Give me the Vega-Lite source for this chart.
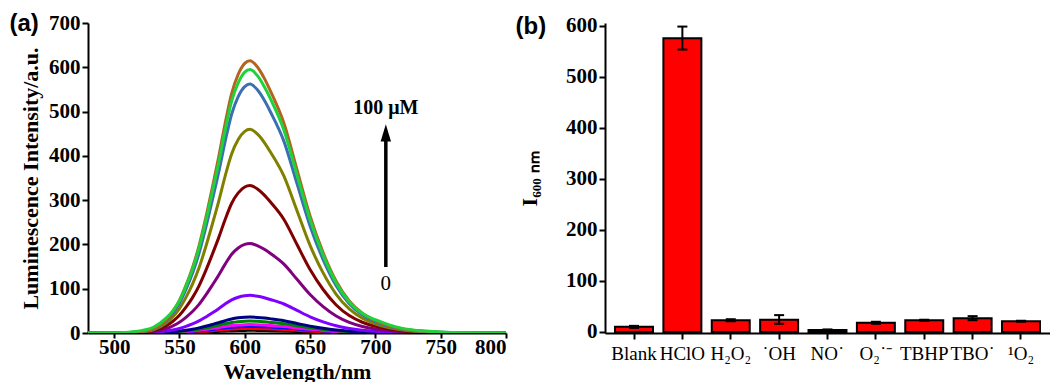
{
"$schema": "https://vega.github.io/schema/vega-lite/v6.json",
"padding": {"left": 9, "top": 12, "right": 0, "bottom": 0},
"spacing": 8,
"config": {
  "font": "Liberation Serif",
  "view": {"stroke": null},
  "axis": {"domainColor": "black", "domainWidth": 2, "tickColor": "black", "tickWidth": 2, "tickSize": 6, "labelColor": "black", "titleColor": "black", "grid": false, "labelFont": "Liberation Serif", "titleFont": "Liberation Serif", "labelFontSize": 21, "titleFontSize": 22, "labelFontWeight": "bold", "titleFontWeight": "bold", "labelPadding": 2},
  "title": {"font": "Liberation Sans", "fontSize": 24, "fontWeight": "bold", "color": "black"}
},
"datasets": {
"spectra": [
{"w":480,"s":0,"v":0},{"w":500,"s":0,"v":0},{"w":515,"s":0,"v":0},{"w":525,"s":0,"v":0.1},{"w":530,"s":0,"v":0.1},{"w":540,"s":0,"v":0.3},{"w":545,"s":0,"v":0.5},{"w":550,"s":0,"v":0.7},{"w":555,"s":0,"v":1.1},{"w":560,"s":0,"v":1.4},{"w":565,"s":0,"v":1.9},{"w":570,"s":0,"v":2.5},{"w":575,"s":0,"v":3.2},{"w":580,"s":0,"v":3.9},{"w":585,"s":0,"v":4.6},{"w":590,"s":0,"v":5.3},{"w":595,"s":0,"v":5.7},{"w":600,"s":0,"v":5.9},{"w":604,"s":0,"v":6},{"w":610,"s":0,"v":5.9},{"w":615,"s":0,"v":5.6},{"w":620,"s":0,"v":5.3},{"w":630,"s":0,"v":4.6},{"w":640,"s":0,"v":3.6},{"w":650,"s":0,"v":2.6},{"w":660,"s":0,"v":1.8},{"w":670,"s":0,"v":1.1},{"w":680,"s":0,"v":0.7},{"w":690,"s":0,"v":0.4},{"w":700,"s":0,"v":0.3},{"w":710,"s":0,"v":0.2},{"w":720,"s":0,"v":0.1},{"w":735,"s":0,"v":0},{"w":750,"s":0,"v":0},{"w":770,"s":0,"v":0},{"w":800,"s":0,"v":0},
{"w":480,"s":1,"v":0},{"w":500,"s":1,"v":0},{"w":515,"s":1,"v":0},{"w":525,"s":1,"v":0.1},{"w":530,"s":1,"v":0.2},{"w":540,"s":1,"v":0.5},{"w":545,"s":1,"v":0.8},{"w":550,"s":1,"v":1.2},{"w":555,"s":1,"v":1.8},{"w":560,"s":1,"v":2.4},{"w":565,"s":1,"v":3.2},{"w":570,"s":1,"v":4.2},{"w":575,"s":1,"v":5.3},{"w":580,"s":1,"v":6.5},{"w":585,"s":1,"v":7.7},{"w":590,"s":1,"v":8.8},{"w":595,"s":1,"v":9.5},{"w":600,"s":1,"v":9.9},{"w":604,"s":1,"v":10},{"w":610,"s":1,"v":9.8},{"w":615,"s":1,"v":9.4},{"w":620,"s":1,"v":8.9},{"w":630,"s":1,"v":7.7},{"w":640,"s":1,"v":6},{"w":650,"s":1,"v":4.3},{"w":660,"s":1,"v":3},{"w":670,"s":1,"v":1.9},{"w":680,"s":1,"v":1.2},{"w":690,"s":1,"v":0.7},{"w":700,"s":1,"v":0.5},{"w":710,"s":1,"v":0.3},{"w":720,"s":1,"v":0.2},{"w":735,"s":1,"v":0.1},{"w":750,"s":1,"v":0},{"w":770,"s":1,"v":0},{"w":800,"s":1,"v":0},
{"w":480,"s":2,"v":0},{"w":500,"s":2,"v":0},{"w":515,"s":2,"v":0},{"w":525,"s":2,"v":0.1},{"w":530,"s":2,"v":0.2},{"w":540,"s":2,"v":0.8},{"w":545,"s":2,"v":1.2},{"w":550,"s":2,"v":1.8},{"w":555,"s":2,"v":2.6},{"w":560,"s":2,"v":3.6},{"w":565,"s":2,"v":4.8},{"w":570,"s":2,"v":6.3},{"w":575,"s":2,"v":8},{"w":580,"s":2,"v":9.7},{"w":585,"s":2,"v":11.6},{"w":590,"s":2,"v":13.2},{"w":595,"s":2,"v":14.3},{"w":600,"s":2,"v":14.9},{"w":604,"s":2,"v":15},{"w":610,"s":2,"v":14.6},{"w":615,"s":2,"v":14},{"w":620,"s":2,"v":13.3},{"w":630,"s":2,"v":11.6},{"w":640,"s":2,"v":9},{"w":650,"s":2,"v":6.5},{"w":660,"s":2,"v":4.4},{"w":670,"s":2,"v":2.9},{"w":680,"s":2,"v":1.8},{"w":690,"s":2,"v":1.1},{"w":700,"s":2,"v":0.7},{"w":710,"s":2,"v":0.4},{"w":720,"s":2,"v":0.2},{"w":735,"s":2,"v":0.1},{"w":750,"s":2,"v":0},{"w":770,"s":2,"v":0},{"w":800,"s":2,"v":0},
{"w":480,"s":3,"v":0},{"w":500,"s":3,"v":0},{"w":515,"s":3,"v":0.1},{"w":525,"s":3,"v":0.2},{"w":530,"s":3,"v":0.3},{"w":540,"s":3,"v":1},{"w":545,"s":3,"v":1.5},{"w":550,"s":3,"v":2.3},{"w":555,"s":3,"v":3.3},{"w":560,"s":3,"v":4.6},{"w":565,"s":3,"v":6.1},{"w":570,"s":3,"v":8},{"w":575,"s":3,"v":10.1},{"w":580,"s":3,"v":12.3},{"w":585,"s":3,"v":14.6},{"w":590,"s":3,"v":16.7},{"w":595,"s":3,"v":18.1},{"w":600,"s":3,"v":18.8},{"w":604,"s":3,"v":19},{"w":610,"s":3,"v":18.5},{"w":615,"s":3,"v":17.8},{"w":620,"s":3,"v":16.8},{"w":630,"s":3,"v":14.6},{"w":640,"s":3,"v":11.4},{"w":650,"s":3,"v":8.2},{"w":660,"s":3,"v":5.6},{"w":670,"s":3,"v":3.6},{"w":680,"s":3,"v":2.2},{"w":690,"s":3,"v":1.4},{"w":700,"s":3,"v":0.9},{"w":710,"s":3,"v":0.5},{"w":720,"s":3,"v":0.3},{"w":735,"s":3,"v":0.1},{"w":750,"s":3,"v":0.1},{"w":770,"s":3,"v":0},{"w":800,"s":3,"v":0},
{"w":480,"s":4,"v":0},{"w":500,"s":4,"v":0},{"w":515,"s":4,"v":0.1},{"w":525,"s":4,"v":0.2},{"w":530,"s":4,"v":0.4},{"w":540,"s":4,"v":1.4},{"w":545,"s":4,"v":2.2},{"w":550,"s":4,"v":3.2},{"w":555,"s":4,"v":4.7},{"w":560,"s":4,"v":6.5},{"w":565,"s":4,"v":8.6},{"w":570,"s":4,"v":11.3},{"w":575,"s":4,"v":14.3},{"w":580,"s":4,"v":17.4},{"w":585,"s":4,"v":20.8},{"w":590,"s":4,"v":23.8},{"w":595,"s":4,"v":25.7},{"w":600,"s":4,"v":26.7},{"w":604,"s":4,"v":27},{"w":610,"s":4,"v":26.3},{"w":615,"s":4,"v":25.2},{"w":620,"s":4,"v":23.9},{"w":630,"s":4,"v":20.8},{"w":640,"s":4,"v":16.2},{"w":650,"s":4,"v":11.6},{"w":660,"s":4,"v":8},{"w":670,"s":4,"v":5.1},{"w":680,"s":4,"v":3.2},{"w":690,"s":4,"v":2},{"w":700,"s":4,"v":1.2},{"w":710,"s":4,"v":0.7},{"w":720,"s":4,"v":0.4},{"w":735,"s":4,"v":0.2},{"w":750,"s":4,"v":0.1},{"w":770,"s":4,"v":0},{"w":800,"s":4,"v":0},
{"w":480,"s":5,"v":0},{"w":500,"s":5,"v":0},{"w":515,"s":5,"v":0.1},{"w":525,"s":5,"v":0.3},{"w":530,"s":5,"v":0.6},{"w":540,"s":5,"v":1.8},{"w":545,"s":5,"v":2.9},{"w":550,"s":5,"v":4.3},{"w":555,"s":5,"v":6.3},{"w":560,"s":5,"v":8.6},{"w":565,"s":5,"v":11.5},{"w":570,"s":5,"v":15.1},{"w":575,"s":5,"v":19.1},{"w":580,"s":5,"v":23.2},{"w":585,"s":5,"v":27.7},{"w":590,"s":5,"v":31.7},{"w":595,"s":5,"v":34.2},{"w":600,"s":5,"v":35.6},{"w":604,"s":5,"v":36},{"w":610,"s":5,"v":35.1},{"w":615,"s":5,"v":33.7},{"w":620,"s":5,"v":31.9},{"w":630,"s":5,"v":27.7},{"w":640,"s":5,"v":21.6},{"w":650,"s":5,"v":15.5},{"w":660,"s":5,"v":10.6},{"w":670,"s":5,"v":6.8},{"w":680,"s":5,"v":4.2},{"w":690,"s":5,"v":2.6},{"w":700,"s":5,"v":1.6},{"w":710,"s":5,"v":1},{"w":720,"s":5,"v":0.6},{"w":735,"s":5,"v":0.3},{"w":750,"s":5,"v":0.1},{"w":770,"s":5,"v":0},{"w":800,"s":5,"v":0},
{"w":480,"s":6,"v":0},{"w":500,"s":6,"v":0},{"w":515,"s":6,"v":0.3},{"w":525,"s":6,"v":0.8},{"w":530,"s":6,"v":1.4},{"w":540,"s":6,"v":4.3},{"w":545,"s":6,"v":6.8},{"w":550,"s":6,"v":10.2},{"w":555,"s":6,"v":14.9},{"w":560,"s":6,"v":20.4},{"w":565,"s":6,"v":27.2},{"w":570,"s":6,"v":35.7},{"w":575,"s":6,"v":45},{"w":580,"s":6,"v":54.8},{"w":585,"s":6,"v":65.5},{"w":590,"s":6,"v":74.8},{"w":595,"s":6,"v":80.8},{"w":600,"s":6,"v":84.2},{"w":604,"s":6,"v":85},{"w":610,"s":6,"v":82.9},{"w":615,"s":6,"v":79.5},{"w":620,"s":6,"v":75.2},{"w":630,"s":6,"v":65.5},{"w":640,"s":6,"v":51},{"w":650,"s":6,"v":36.6},{"w":660,"s":6,"v":25.1},{"w":670,"s":6,"v":16.2},{"w":680,"s":6,"v":10},{"w":690,"s":6,"v":6.2},{"w":700,"s":6,"v":3.8},{"w":710,"s":6,"v":2.3},{"w":720,"s":6,"v":1.4},{"w":735,"s":6,"v":0.6},{"w":750,"s":6,"v":0.3},{"w":770,"s":6,"v":0.1},{"w":800,"s":6,"v":0},
{"w":480,"s":7,"v":0},{"w":500,"s":7,"v":0},{"w":515,"s":7,"v":0.6},{"w":525,"s":7,"v":1.8},{"w":530,"s":7,"v":3.2},{"w":540,"s":7,"v":10.1},{"w":545,"s":7,"v":16.2},{"w":550,"s":7,"v":24.2},{"w":555,"s":7,"v":35.4},{"w":560,"s":7,"v":48.5},{"w":565,"s":7,"v":64.6},{"w":570,"s":7,"v":84.8},{"w":575,"s":7,"v":107.1},{"w":580,"s":7,"v":130.3},{"w":585,"s":7,"v":155.5},{"w":590,"s":7,"v":177.8},{"w":595,"s":7,"v":191.9},{"w":600,"s":7,"v":200},{"w":604,"s":7,"v":202},{"w":610,"s":7,"v":197},{"w":615,"s":7,"v":188.9},{"w":620,"s":7,"v":178.8},{"w":630,"s":7,"v":155.5},{"w":640,"s":7,"v":121.2},{"w":650,"s":7,"v":86.9},{"w":660,"s":7,"v":59.6},{"w":670,"s":7,"v":38.4},{"w":680,"s":7,"v":23.8},{"w":690,"s":7,"v":14.7},{"w":700,"s":7,"v":9.1},{"w":710,"s":7,"v":5.5},{"w":720,"s":7,"v":3.2},{"w":735,"s":7,"v":1.4},{"w":750,"s":7,"v":0.6},{"w":770,"s":7,"v":0.2},{"w":800,"s":7,"v":0},
{"w":480,"s":8,"v":0},{"w":500,"s":8,"v":0},{"w":515,"s":8,"v":1},{"w":525,"s":8,"v":3},{"w":530,"s":8,"v":5.3},{"w":540,"s":8,"v":16.7},{"w":545,"s":8,"v":26.6},{"w":550,"s":8,"v":40},{"w":555,"s":8,"v":58.3},{"w":560,"s":8,"v":79.9},{"w":565,"s":8,"v":106.6},{"w":570,"s":8,"v":139.9},{"w":575,"s":8,"v":176.5},{"w":580,"s":8,"v":214.8},{"w":585,"s":8,"v":256.4},{"w":590,"s":8,"v":293},{"w":595,"s":8,"v":316.4},{"w":600,"s":8,"v":329.7},{"w":604,"s":8,"v":333},{"w":610,"s":8,"v":324.7},{"w":615,"s":8,"v":311.4},{"w":620,"s":8,"v":294.7},{"w":630,"s":8,"v":256.4},{"w":640,"s":8,"v":199.8},{"w":650,"s":8,"v":143.2},{"w":660,"s":8,"v":98.2},{"w":670,"s":8,"v":63.3},{"w":680,"s":8,"v":39.3},{"w":690,"s":8,"v":24.3},{"w":700,"s":8,"v":15},{"w":710,"s":8,"v":9},{"w":720,"s":8,"v":5.3},{"w":735,"s":8,"v":2.3},{"w":750,"s":8,"v":1},{"w":770,"s":8,"v":0.3},{"w":800,"s":8,"v":0},
{"w":480,"s":9,"v":0},{"w":500,"s":9,"v":0},{"w":515,"s":9,"v":1.4},{"w":525,"s":9,"v":4.1},{"w":530,"s":9,"v":7.4},{"w":540,"s":9,"v":23},{"w":545,"s":9,"v":36.8},{"w":550,"s":9,"v":55.2},{"w":555,"s":9,"v":80.5},{"w":560,"s":9,"v":110.4},{"w":565,"s":9,"v":147.2},{"w":570,"s":9,"v":193.2},{"w":575,"s":9,"v":243.8},{"w":580,"s":9,"v":296.7},{"w":585,"s":9,"v":354.2},{"w":590,"s":9,"v":404.8},{"w":595,"s":9,"v":437},{"w":600,"s":9,"v":455.4},{"w":604,"s":9,"v":460},{"w":610,"s":9,"v":448.5},{"w":615,"s":9,"v":430.1},{"w":620,"s":9,"v":407.1},{"w":630,"s":9,"v":354.2},{"w":640,"s":9,"v":276},{"w":650,"s":9,"v":197.8},{"w":660,"s":9,"v":135.7},{"w":670,"s":9,"v":87.4},{"w":680,"s":9,"v":54.3},{"w":690,"s":9,"v":33.6},{"w":700,"s":9,"v":20.7},{"w":710,"s":9,"v":12.4},{"w":720,"s":9,"v":7.4},{"w":735,"s":9,"v":3.2},{"w":750,"s":9,"v":1.4},{"w":770,"s":9,"v":0.5},{"w":800,"s":9,"v":0},
{"w":480,"s":10,"v":0},{"w":500,"s":10,"v":0},{"w":515,"s":10,"v":1.7},{"w":525,"s":10,"v":5.1},{"w":530,"s":10,"v":9},{"w":540,"s":10,"v":28.1},{"w":545,"s":10,"v":45},{"w":550,"s":10,"v":67.4},{"w":555,"s":10,"v":98.4},{"w":560,"s":10,"v":134.9},{"w":565,"s":10,"v":179.8},{"w":570,"s":10,"v":236},{"w":575,"s":10,"v":297.9},{"w":580,"s":10,"v":362.5},{"w":585,"s":10,"v":432.7},{"w":590,"s":10,"v":494.6},{"w":595,"s":10,"v":533.9},{"w":600,"s":10,"v":556.4},{"w":604,"s":10,"v":562},{"w":610,"s":10,"v":548},{"w":615,"s":10,"v":525.5},{"w":620,"s":10,"v":497.4},{"w":630,"s":10,"v":432.7},{"w":640,"s":10,"v":337.2},{"w":650,"s":10,"v":241.7},{"w":660,"s":10,"v":165.8},{"w":670,"s":10,"v":106.8},{"w":680,"s":10,"v":66.3},{"w":690,"s":10,"v":41},{"w":700,"s":10,"v":25.3},{"w":710,"s":10,"v":15.2},{"w":720,"s":10,"v":9},{"w":735,"s":10,"v":3.9},{"w":750,"s":10,"v":1.7},{"w":770,"s":10,"v":0.6},{"w":800,"s":10,"v":0},
{"w":480,"s":12,"v":0},{"w":500,"s":12,"v":0},{"w":515,"s":12,"v":1.8},{"w":525,"s":12,"v":5.5},{"w":530,"s":12,"v":9.8},{"w":540,"s":12,"v":30.8},{"w":545,"s":12,"v":49.2},{"w":550,"s":12,"v":73.8},{"w":555,"s":12,"v":107.6},{"w":560,"s":12,"v":147.6},{"w":565,"s":12,"v":196.8},{"w":570,"s":12,"v":258.3},{"w":575,"s":12,"v":326},{"w":580,"s":12,"v":396.7},{"w":585,"s":12,"v":473.6},{"w":590,"s":12,"v":541.2},{"w":595,"s":12,"v":584.3},{"w":600,"s":12,"v":608.9},{"w":604,"s":12,"v":615},{"w":610,"s":12,"v":599.6},{"w":615,"s":12,"v":575},{"w":620,"s":12,"v":544.3},{"w":630,"s":12,"v":473.6},{"w":640,"s":12,"v":369},{"w":650,"s":12,"v":264.5},{"w":660,"s":12,"v":181.4},{"w":670,"s":12,"v":116.9},{"w":680,"s":12,"v":72.6},{"w":690,"s":12,"v":44.9},{"w":700,"s":12,"v":27.7},{"w":710,"s":12,"v":16.6},{"w":720,"s":12,"v":9.8},{"w":735,"s":12,"v":4.3},{"w":750,"s":12,"v":1.8},{"w":770,"s":12,"v":0.6},{"w":800,"s":12,"v":0},
{"w":480,"s":11,"v":0},{"w":500,"s":11,"v":0.5},{"w":515,"s":11,"v":3},{"w":525,"s":11,"v":8},{"w":530,"s":11,"v":13},{"w":540,"s":11,"v":34},{"w":545,"s":11,"v":50},{"w":550,"s":11,"v":73},{"w":555,"s":11,"v":106},{"w":560,"s":11,"v":144},{"w":565,"s":11,"v":192},{"w":570,"s":11,"v":251},{"w":575,"s":11,"v":316},{"w":580,"s":11,"v":384},{"w":585,"s":11,"v":458},{"w":590,"s":11,"v":524},{"w":595,"s":11,"v":565},{"w":600,"s":11,"v":589},{"w":604,"s":11,"v":595},{"w":610,"s":11,"v":580},{"w":615,"s":11,"v":556},{"w":620,"s":11,"v":527},{"w":630,"s":11,"v":458},{"w":640,"s":11,"v":357},{"w":650,"s":11,"v":256},{"w":660,"s":11,"v":176},{"w":670,"s":11,"v":113},{"w":680,"s":11,"v":70},{"w":690,"s":11,"v":44},{"w":700,"s":11,"v":30},{"w":710,"s":11,"v":19},{"w":720,"s":11,"v":11},{"w":735,"s":11,"v":5},{"w":750,"s":11,"v":2.2},{"w":770,"s":11,"v":0.6},{"w":800,"s":11,"v":0}
],
"arrow": [{"x": 708, "y1": 149, "y2": 445, "tip": 452, "label": "100 μM", "ly": 508, "zero": "0", "zy": 111}],
"bars": [
{"cat": "Blank", "v": 10, "lo": 8, "hi": 12},
{"cat": "HClO", "v": 575, "lo": 553, "hi": 598},
{"cat": "H₂O₂", "v": 23, "lo": 21, "hi": 25},
{"cat": "˙OH", "v": 24, "lo": 16, "hi": 33},
{"cat": "NO˙", "v": 4, "lo": 3, "hi": 5},
{"cat": "O₂˙⁻", "v": 18, "lo": 16, "hi": 20},
{"cat": "TBHP", "v": 23, "lo": 22, "hi": 24},
{"cat": "TBO˙", "v": 27, "lo": 23, "hi": 31},
{"cat": "¹O₂", "v": 21, "lo": 20, "hi": 22}
]
},
"hconcat": [
{
  "width": 418, "height": 310,
  "title": {"text": "(a)", "anchor": "start", "frame": "bounds", "offset": -24, "dx": -10},
  "layer": [
    {"data": {"name": "spectra"},
     "mark": {"type": "line", "strokeWidth": 3, "interpolate": "monotone", "clip": true},
     "encoding": {
       "x": {"field": "w", "type": "quantitative", "scale": {"domain": [480, 800], "nice": false},
             "axis": {"title": "Wavelength/nm", "values": [500,525,550,575,600,625,650,675,700,725,750,775,800], "labelExpr": "datum.value % 50 === 0 ? datum.label : ''", "tickSize": {"condition": {"test": "datum.value % 50 === 0", "value": 5}, "value": 4}, "labelPadding": -2, "titlePadding": 4}},
       "y": {"field": "v", "type": "quantitative", "scale": {"domain": [0, 700], "nice": false},
             "axis": {"title": "Luminescence Intensity/a.u.", "values": [0,50,100,150,200,250,300,350,400,450,500,550,600,650,700], "labelExpr": "datum.value % 100 === 0 ? datum.label : ''", "tickSize": {"condition": {"test": "datum.value % 100 === 0", "value": 6}, "value": 4}, "titlePadding": 6}},
       "color": {"field": "s", "type": "nominal", "legend": null,
                 "scale": {"domain": [0,1,2,3,4,5,6,7,8,9,10,11,12], "range": ["#000000","#FF0000","#0000FF","#FF00FF","#008000","#000080","#8000FF","#800080","#800000","#808000","#3C6EB4","#1ED23C","#B4641E"]}}
     }},
    {"data": {"name": "arrow"}, "mark": {"type": "rule", "strokeWidth": 3.5, "color": "black"},
     "encoding": {"x": {"field": "x", "type": "quantitative"}, "y": {"field": "y1", "type": "quantitative"}, "y2": {"field": "y2"}}},
    {"data": {"name": "arrow"}, "mark": {"type": "point", "shape": "M0,-1L0.6,1L-0.6,1Z", "size": 300, "filled": true, "color": "black", "opacity": 1},
     "encoding": {"x": {"field": "x", "type": "quantitative"}, "y": {"field": "tip", "type": "quantitative"}}},
    {"data": {"name": "arrow"}, "mark": {"type": "text", "fontSize": 20, "fontWeight": "bold", "font": "Liberation Serif", "color": "black"},
     "encoding": {"x": {"field": "x", "type": "quantitative"}, "y": {"field": "ly", "type": "quantitative"}, "text": {"field": "label"}}},
    {"data": {"name": "arrow"}, "mark": {"type": "text", "fontSize": 21, "font": "Liberation Serif", "color": "black"},
     "encoding": {"x": {"field": "x", "type": "quantitative"}, "y": {"field": "zy", "type": "quantitative"}, "text": {"field": "zero"}}}
  ]
},
{
  "width": 445, "height": 310,
  "title": {"text": "(b)", "anchor": "start", "frame": "bounds", "offset": -24, "dx": -3},
  "data": {"name": "bars"},
  "encoding": {
    "x": {"field": "cat", "type": "nominal", "sort": null, "scale": {"paddingInner": 0.215, "paddingOuter": 0.207},
          "axis": {"title": null, "labelAngle": 0, "labelFontWeight": "normal", "labelFontSize": 19, "labelPadding": 5}}
  },
  "layer": [
    {"mark": {"type": "bar", "fill": "#FF0000", "stroke": "black", "strokeWidth": 2},
     "encoding": {"y": {"field": "v", "type": "quantitative", "scale": {"domain": [-2, 605], "nice": false},
        "axis": {"title": "I₆₀₀ ₙₘ", "values": [0,50,100,150,200,250,300,350,400,450,500,550,600], "labelExpr": "datum.value % 100 === 0 ? datum.label : ''", "tickSize": {"condition": {"test": "datum.value % 100 === 0", "value": 6}, "value": 4}, "titlePadding": 24}}}},
    {"mark": {"type": "rule", "strokeWidth": 2, "color": "black"},
     "encoding": {"y": {"field": "lo", "type": "quantitative"}, "y2": {"field": "hi"}}},
    {"mark": {"type": "tick", "thickness": 2, "size": 10, "color": "black", "opacity": 1},
     "encoding": {"y": {"field": "lo", "type": "quantitative"}}},
    {"mark": {"type": "tick", "thickness": 2, "size": 10, "color": "black", "opacity": 1},
     "encoding": {"y": {"field": "hi", "type": "quantitative"}}}
  ]
}
]
}
